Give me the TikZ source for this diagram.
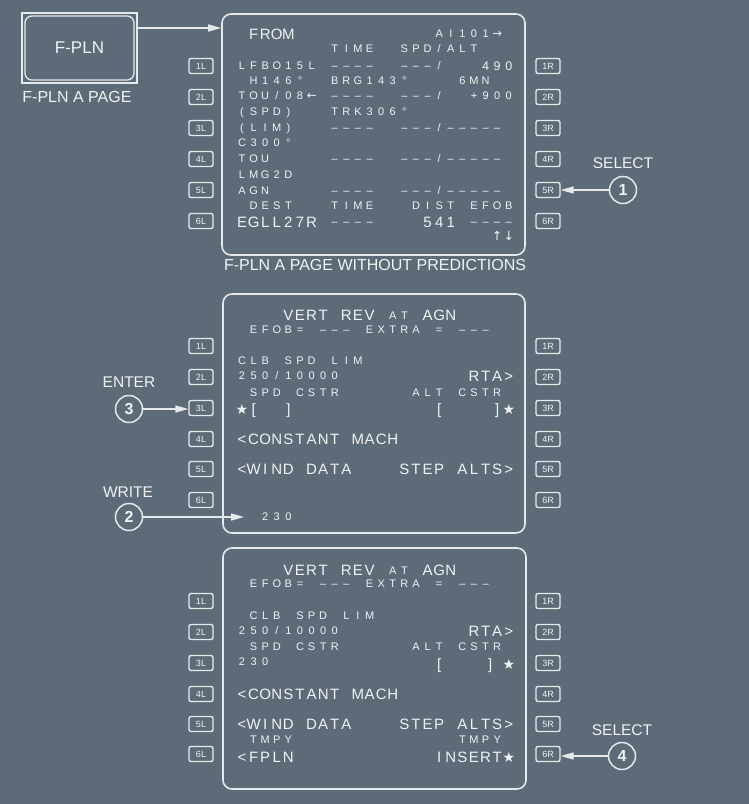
\documentclass[tikz,border=0pt]{standalone}
\usepackage{fontspec}
\setmainfont{Liberation Sans}
\newfontfamily\mcdusymf{DejaVu Sans}
\usetikzlibrary{arrows.meta}
\definecolor{bg}{HTML}{5D6B78}
\definecolor{ln}{HTML}{E6E9EC}
\definecolor{txt}{HTML}{F0F2F4}
\newcommand{\mcdusm}{\fontsize{11}{12}\selectfont}
\newcommand{\mcdumd}{\fontsize{12.5}{14}\selectfont}
\newcommand{\mcdulg}{\fontsize{15}{18}\selectfont}
% monospaced MCDU grid: every character sits in a cell of fixed width
\newlength{\cellw}\setlength{\cellw}{11.6pt}
\def\monoend{\monoend}
\def\monoloop#1{\ifx\monoend#1\else\makebox[\cellw][c]{#1}\expandafter\monoloop\fi}
\newcommand{\mono}[1]{\monoloop#1\monoend}
\def\rarrowgl{{\mcdusymf\fontsize{11.5}{12}\selectfont →}}
\def\larrowgl{{\mcdusymf\fontsize{11.5}{12}\selectfont ←}}
\def\uarrowgl{{\mcdusymf\fontsize{12.5}{12}\selectfont ↑}}
\def\darrowgl{{\mcdusymf\fontsize{12.5}{12}\selectfont ↓}}
\def\stargl{{\mcdusymf\fontsize{14}{14}\selectfont ★}}
\newcommand{\colx}[1]{{236+11.6*#1}}
\tikzset{
 st/.style={inner sep=0pt, text=txt, anchor=west, text depth=0pt},
 sm/.style={st, font=\mcdusm, text height=7.9pt},
 md/.style={st, font=\mcdumd, text height=9pt},
 lg/.style={st, font=\mcdulg, text height=10.8pt},
 lbl/.style={inner sep=0pt, text=txt, font=\fontsize{15.5}{18}\selectfont},
 captxt/.style={inner sep=0pt, text=txt, font=\fontsize{16}{19}\selectfont},
 key/.style={draw=ln, line width=1.4pt, rounded corners=2pt, minimum width=24pt, minimum height=15pt, inner sep=0pt, text=txt, font=\fontsize{9}{10}\selectfont},
 panel/.style={draw=ln, line width=1.6pt, rounded corners=9pt, inner sep=0pt},
 num/.style={circle, draw=ln, line width=1.5pt, minimum size=27pt, inner sep=0pt, text=txt, font=\bfseries\fontsize{16}{18}\selectfont},
 arr/.style={draw=ln, line width=1.5pt, -{Triangle[length=13pt,width=7pt]}},
}
\begin{document}
\begin{tikzpicture}[x=1pt,y=-1pt]
\fill[bg] (0,0) rectangle (749,804);
\useasboundingbox (0,0) rectangle (749,804);

% F-PLN key
\node[draw=ln, line width=1.3pt, minimum width=115pt, minimum height=70pt, inner sep=0pt, text=txt, font=\fontsize{17}{20}\selectfont] (fpln) at (79.5,48) {F-PLN};
\draw[ln, line width=1.3pt, rounded corners=7pt] ([shift={(3.6pt,-3.6pt)}]fpln.north west) rectangle ([shift={(-3.6pt,3.6pt)}]fpln.south east);
\node[captxt] (cap1) at (77,97) {F-PLN A PAGE};

% panels
\node[panel, minimum width=303pt, minimum height=241pt] (p1) at (373.5,134.5) {};
\node[panel, minimum width=302pt, minimum height=239pt] (p2) at (374,413.5) {};
\node[panel, minimum width=303pt, minimum height=241pt] (p3) at (374.5,668.5) {};
\node[captxt] (cap2) at (375,265) {F-PLN A PAGE WITHOUT PREDICTIONS};

% line select keys
\foreach \i/\yy in {1/66,2/97,3/128,4/159,5/190,6/221} {
  \node[key] (p1L\i) at (201,\yy) {\i L};
  \node[key] (p1R\i) at (548,\yy) {\i R};
}
\foreach \i/\yy in {1/346,2/377,3/408,4/439,5/469,6/500} {
  \node[key] (p2L\i) at (201,\yy) {\i L};
  \node[key] (p2R\i) at (548,\yy) {\i R};
}
\foreach \i/\yy in {1/601,2/632,3/663,4/694,5/724,6/754} {
  \node[key] (p3L\i) at (201,\yy) {\i L};
  \node[key] (p3R\i) at (548,\yy) {\i R};
}

% panel 1 text
\node[lg] (a1) at (\colx{1},34) {\mono{FROM}};
\node[sm] (a2) at (\colx{17},34) {\mono{AI101\rarrowgl}};
\node[sm] (a3) at (\colx{8},49) {\mono{TIME}};
\node[sm] (a4) at (\colx{14},49) {\mono{SPD/ALT}};
\node[sm] (a5) at (\colx{0},66) {\mono{LFBO15L}};
\node[sm] (a6) at (\colx{8},66) {\mono{––––}};
\node[sm] (a7) at (\colx{14},66) {\mono{–––/}};
\node[md] (a8) at (\colx{21},66) {\mono{490}};
\node[sm] (a9) at (\colx{1},81) {\mono{H146°}};
\node[sm] (a10) at (\colx{8},81) {\mono{BRG143°}};
\node[sm] (a11) at (\colx{19},81) {\mono{6MN}};
\node[sm] (a12) at (\colx{0},96) {\mono{TOU/08\larrowgl}};
\node[sm] (a13) at (\colx{8},96) {\mono{––––}};
\node[sm] (a14) at (\colx{14},96) {\mono{–––/}};
\node[sm] (a15) at (\colx{20},96) {\mono{+900}};
\node[sm] (a16) at (\colx{0},112) {\mono{(SPD)}};
\node[sm] (a17) at (\colx{8},112) {\mono{TRK306°}};
\node[sm] (a18) at (\colx{0},128) {\mono{(LIM)}};
\node[sm] (a19) at (\colx{8},128) {\mono{––––}};
\node[sm] (a20) at (\colx{14},128) {\mono{–––/–––––}};
\node[sm] (a21) at (\colx{0},143) {\mono{C300°}};
\node[sm] (a22) at (\colx{0},159) {\mono{TOU}};
\node[sm] (a23) at (\colx{8},159) {\mono{––––}};
\node[sm] (a24) at (\colx{14},159) {\mono{–––/–––––}};
\node[sm] (a25) at (\colx{0},175) {\mono{LMG2D}};
\node[sm] (a26) at (\colx{0},191) {\mono{AGN}};
\node[sm] (a27) at (\colx{8},191) {\mono{––––}};
\node[sm] (a28) at (\colx{14},191) {\mono{–––/–––––}};
\node[sm] (a29) at (\colx{1},206) {\mono{DEST}};
\node[sm] (a30) at (\colx{8},206) {\mono{TIME}};
\node[sm] (a31) at (\colx{15},206) {\mono{DIST}};
\node[sm] (a32) at (\colx{20},206) {\mono{EFOB}};
\node[lg] (a33) at (\colx{0},222) {\mono{EGLL27R}};
\node[sm] (a34) at (\colx{8},222) {\mono{––––}};
\node[lg] (a35) at (\colx{16},222) {\mono{541}};
\node[sm] (a36) at (\colx{20},222) {\mono{––––}};
\node[sm] (a37) at (\colx{22},237) {\mono{\uarrowgl\darrowgl}};

% panel 2 text
\node[lg] (b1) at (\colx{4},315) {\mono{VERT~REV}};
\node[sm] (b3) at (\colx{13},316) {\mono{AT}};
\node[lg] (b4) at (\colx{16},315) {\mono{AGN}};
\node[sm] (b5) at (\colx{1},330) {\mono{EFOB=~–––~EXTRA~=~–––}};
\node[sm] (b10) at (\colx{0},361) {\mono{CLB~SPD~LIM}};
\node[sm] (b11) at (\colx{0},376) {\mono{250/10000}};
\node[lg] (b12) at (\colx{20},376) {\mono{RTA>}};
\node[sm] (b13) at (\colx{1},393) {\mono{SPD~CSTR}};
\node[sm] (b14) at (\colx{15},393) {\mono{ALT~CSTR}};
\node[lg] (b15) at (\colx{0},409) {\mono{\stargl[~~]}};
\node[lg] (b18) at (\colx{17},409) {\mono{[~~~~]\stargl}};
\node[lg] (b21) at (\colx{0},439) {\mono{<CONSTANT~MACH}};
\node[lg] (b22) at (\colx{0},469) {\mono{<WIND~DATA}};
\node[lg] (b23) at (\colx{14},469) {\mono{STEP~ALTS>}};
\node[sm] (b24) at (\colx{2},517) {\mono{230}};

% panel 3 text
\node[lg] (c1) at (\colx{4},570) {\mono{VERT~REV}};
\node[sm] (c3) at (\colx{13},571) {\mono{AT}};
\node[lg] (c4) at (\colx{16},570) {\mono{AGN}};
\node[sm] (c5) at (\colx{1},584) {\mono{EFOB=~–––~EXTRA~=~–––}};
\node[sm] (c10) at (\colx{1},616) {\mono{CLB~SPD~LIM}};
\node[sm] (c11) at (\colx{0},631) {\mono{250/10000}};
\node[lg] (c12) at (\colx{20},631) {\mono{RTA>}};
\node[sm] (c13) at (\colx{1},647) {\mono{SPD~CSTR}};
\node[sm] (c14) at (\colx{15},647) {\mono{ALT~CSTR}};
\node[sm] (c15) at (\colx{0},662) {\mono{230}};
\node[lg] (c16) at (\colx{17},664) {\mono{[}};
\node[lg] (c17) at (\colx{21.4},664) {\mono{]}};
\node[lg] (c18) at (\colx{23},664) {\mono{\stargl}};
\node[lg] (c19) at (\colx{0},694) {\mono{<CONSTANT~MACH}};
\node[lg] (c20) at (\colx{0},724) {\mono{<WIND~DATA}};
\node[lg] (c21) at (\colx{14},724) {\mono{STEP~ALTS>}};
\node[sm] (c22) at (\colx{1},740) {\mono{TMPY}};
\node[sm] (c23) at (\colx{19},740) {\mono{TMPY}};
\node[lg] (c24) at (\colx{0},757) {\mono{<FPLN}};
\node[lg] (c25) at (\colx{17},757) {\mono{INSERT\stargl}};

% callouts
\node[num] (n1) at (623,190) {1};
\node[lbl] (s1) at (623,163) {SELECT};
\node[num] (n3) at (129,409) {3};
\node[lbl] (e3) at (129,382) {ENTER};
\node[num] (n2) at (129,517) {2};
\node[lbl] (w2) at (128,492) {WRITE};
\node[num] (n4) at (622,756) {4};
\node[lbl] (s4) at (622,730) {SELECT};
\coordinate (ya) at (0,28);
\coordinate (wt) at (244,517);

% connectors
\draw[arr] (fpln.east |- ya) -- (p1.west |- ya);
\draw[arr] (n1.west) -- (p1R5.east);
\draw[arr] (n3.east) -- (p2L3.west |- n3.east);
\draw[arr] (n2.east) -- (wt);
\draw[arr] (n4.west) -- (p3R6.east |- n4.west);
\end{tikzpicture}
\end{document}
